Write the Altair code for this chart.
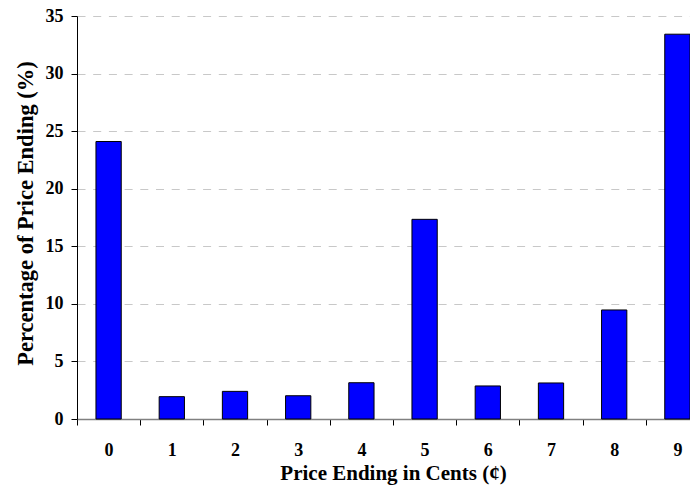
import altair as alt
import pandas as pd

categories = ["0", "1", "2", "3", "4", "5", "6", "7", "8", "9"]
percentages = [24.1, 1.94, 2.4, 2.02, 3.15, 17.34, 2.87, 3.13, 9.47, 33.42]
y_ticks = [0, 5, 10, 15, 20, 25, 30, 35]

df = pd.DataFrame({"cent": categories, "pct": percentages})

FONT = "Liberation Serif"

chart = (
    alt.Chart(df)
    .mark_bar(color="#0000FF", stroke="#000000", strokeWidth=1,
              width=alt.RelativeBandSize(0.4))
    .encode(
        x=alt.X("cent:N", sort=categories,
                scale=alt.Scale(paddingInner=0, paddingOuter=0, range=[0, 632]),
                axis=alt.Axis(title="Price Ending in Cents (¢)", labelAngle=0,
                              tickBand="extent", tickSize=6, tickColor="#000000",
                              domainColor="#808080", domainWidth=1.5,
                              labelFont=FONT, labelFontSize=18, labelFontWeight="bold",
                              labelColor="#000000", labelBaseline="alphabetic",
                              labelPadding=30,
                              titleFont=FONT, titleFontSize=21, titleFontWeight="bold",
                              titleColor="#000000", titleBaseline="alphabetic",
                              titleY=60, titleX=316, titleAlign="center",
                              grid=False)),
        y=alt.Y("pct:Q",
                scale=alt.Scale(domain=[0, 35], nice=False),
                axis=alt.Axis(title="Percentage of Price Ending (%)", values=y_ticks,
                              tickSize=6, tickColor="#000000", domainColor="#000000",
                              domainWidth=1,
                              labelFont=FONT, labelFontSize=18, labelFontWeight="bold",
                              labelColor="#000000", labelPadding=8,
                              titleFont=FONT, titleFontSize=22.5, titleFontWeight="bold",
                              titleColor="#000000", titleAngle=-90,
                              titleBaseline="alphabetic", titleAlign="center",
                              titleX=-45, titleY=197,
                              grid=True, gridColor="#c8c8c8", gridDash=[8, 7.7],
                              gridWidth=1.2)),
    )
    .properties(
        width=613, height=403,
        autosize=alt.AutoSizeParams(type="none"),
        padding={"left": 69, "top": 8, "right": 0, "bottom": 68},
    )
    .configure_view(stroke=None)
)

chart.save("out.html", embed_options={"renderer": "svg", "actions": False})
